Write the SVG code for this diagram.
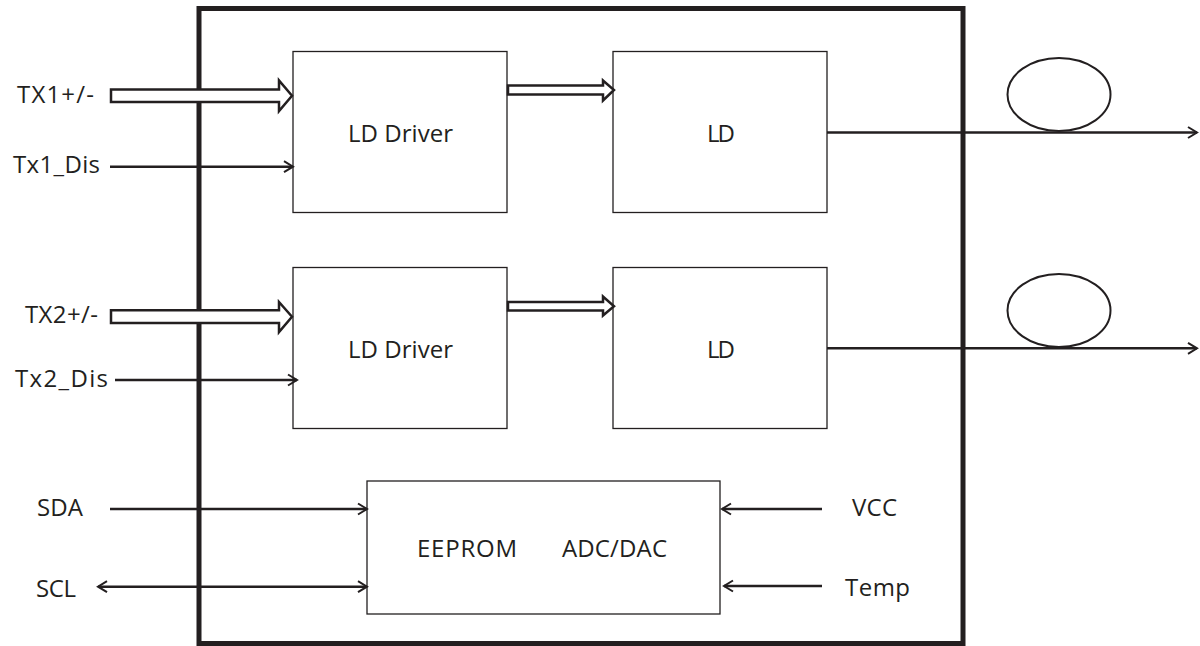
<svg xmlns="http://www.w3.org/2000/svg" width="1200" height="646" viewBox="0 0 1200 646">
<style>
  .box { fill: #fff; stroke: #231f20; stroke-width: 1.3; }
  .frame { fill: none; stroke: #231f20; stroke-width: 5; }
  .lbl { font-family: "Open Sans", "Liberation Sans", sans-serif; font-size: 24px; fill: #231f20; }
  .wire { fill: none; stroke: #231f20; stroke-width: 2.5; }
  .hollow { fill: #fff; stroke: #231f20; stroke-width: 2.5; stroke-linejoin: miter; }
  .fiber { fill: none; stroke: #231f20; stroke-width: 2; }
</style>
<defs>
  <marker id="arr" markerUnits="userSpaceOnUse" markerWidth="14" markerHeight="14" refX="11" refY="7" orient="auto-start-reverse">
    <path d="M2,1.5 L11,7 L2,12.5" fill="none" stroke="#231f20" stroke-width="2"/>
  </marker>
</defs>
<rect width="1200" height="646" fill="#fff"/>
<g id="module">
  <rect class="frame" x="199" y="8.5" width="764" height="635"/>
</g>
<g id="ld-driver-1">
  <rect class="box" x="293" y="51.5" width="214" height="161"/>
  <text class="lbl" x="348" y="142" textLength="105">LD Driver</text>
</g>
<g id="ld-1">
  <rect class="box" x="613" y="51.5" width="214" height="161"/>
  <text class="lbl" x="707" y="142" textLength="28">LD</text>
</g>
<g id="ld-driver-2">
  <rect class="box" x="293" y="267.5" width="214" height="161"/>
  <text class="lbl" x="348" y="358" textLength="105">LD Driver</text>
</g>
<g id="ld-2">
  <rect class="box" x="613" y="267.5" width="214" height="161"/>
  <text class="lbl" x="707" y="358" textLength="28">LD</text>
</g>
<g id="mcu">
  <rect class="box" x="367" y="481" width="353" height="133"/>
  <text class="lbl" x="417" y="557" textLength="100">EEPROM</text>
  <text class="lbl" x="562" y="557" textLength="105">ADC/DAC</text>
</g>
<g id="fiber-1">
  <ellipse class="fiber" cx="1059" cy="94.5" rx="51.5" ry="36.5"/>
</g>
<g id="fiber-2">
  <ellipse class="fiber" cx="1059" cy="310.5" rx="51.5" ry="36.5"/>
</g>
<g id="labels">
  <text class="lbl" x="17" y="103" textLength="77">TX1+/-</text>
  <text class="lbl" x="13" y="173" textLength="87">Tx1_Dis</text>
  <text class="lbl" x="25" y="323" textLength="73">TX2+/-</text>
  <text class="lbl" x="15" y="387" textLength="93">Tx2_Dis</text>
  <text class="lbl" x="37" y="516" textLength="46">SDA</text>
  <text class="lbl" x="36" y="597" textLength="40">SCL</text>
  <text class="lbl" x="852" y="516" textLength="45">VCC</text>
  <text class="lbl" x="845" y="596" textLength="65">Temp</text>
</g>
<g id="connectors">
  <polygon class="hollow" points="111,89.5 279,89.5 279,80.5 292,95.7 279,111 279,102 111,102"/>
  <polygon class="hollow" points="111,310.3 279,310.3 279,302 292,316.7 279,332 279,323 111,323"/>
  <polygon class="hollow" points="508,85.5 603,85.5 603,80.5 614,90 603,100.5 603,94.5 508,94.5"/>
  <polygon class="hollow" points="508,302 603,302 603,296.5 614,306.3 603,315.5 603,310.5 508,310.5"/>
  <line class="wire" x1="110" y1="166.7" x2="293" y2="166.7" marker-end="url(#arr)"/>
  <line class="wire" x1="115" y1="380" x2="297" y2="380" marker-end="url(#arr)"/>
  <line class="wire" x1="827" y1="132.5" x2="1197" y2="132.5" marker-end="url(#arr)"/>
  <line class="wire" x1="827" y1="348.3" x2="1197" y2="348.3" marker-end="url(#arr)"/>
  <line class="wire" x1="110" y1="509" x2="367" y2="509" marker-end="url(#arr)"/>
  <line class="wire" x1="98" y1="586.7" x2="367" y2="586.7" marker-start="url(#arr)" marker-end="url(#arr)"/>
  <line class="wire" x1="822" y1="509" x2="722" y2="509" marker-end="url(#arr)"/>
  <line class="wire" x1="822" y1="586" x2="724" y2="586" marker-end="url(#arr)"/>
</g>
</svg>
